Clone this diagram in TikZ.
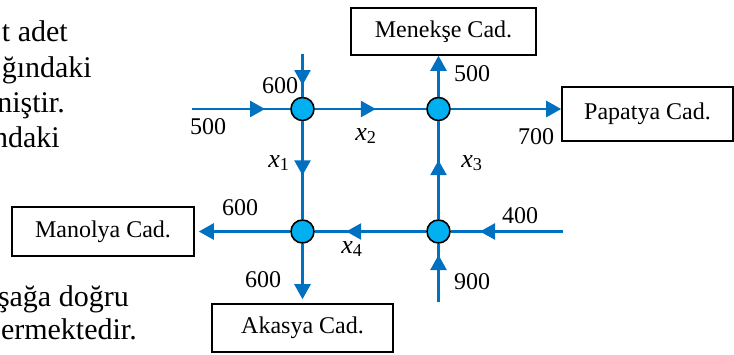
\documentclass[tikz,border=0pt]{standalone}
\usepackage{fontspec}
\setmainfont{Liberation Serif}
\usetikzlibrary{arrows.meta,decorations.markings}
\definecolor{roadblue}{HTML}{0070C0}
\definecolor{nodeblue}{HTML}{00B0F0}
\tikzset{
  road/.style={draw=roadblue, line width=2.6pt},
  tipend/.style={-{Triangle[length=15pt,width=16pt]}},
  arrowat/.style={postaction={decorate},
    decoration={markings, mark=at position #1 with {\arrow{Triangle[length=15pt,width=16pt]}}}},
  junction/.style={circle, fill=nodeblue, draw=black, line width=1.6pt, minimum size=23pt, inner sep=0pt},
  street/.style={draw=black, line width=1.6pt, inner sep=0pt, font=\fontsize{24}{28}\selectfont},
  lbl/.style={inner sep=0pt, font=\fontsize{24}{28}\selectfont},
  mathlbl/.style={inner sep=0pt, font=\fontsize{26}{28}\selectfont},
  prose/.style={inner sep=0pt, anchor=base east, font=\fontsize{30}{34}\selectfont}
}
\begin{document}
\begin{tikzpicture}[x=1pt, y=-1pt]
\useasboundingbox (0,0) rectangle (734,354);
\clip (0,0) rectangle (734,354);
\fill[white] (0,0) rectangle (734,354);

% prose fragments
\node[prose] (p1) at (68,41) {t adet};
\node[prose] (p2) at (92,77) {ğındaki};
\node[prose] (p3) at (65,112) {niştir.};
\node[prose] (p4) at (60,147) {ndaki};
\node[prose] (p5) at (129,306) {şağa doğru};
\node[prose] (p6) at (137,339) {ermektedir.};

% junctions
\node[junction] (A) at (302.5,109) {};
\node[junction] (B) at (438.5,109) {};
\node[junction] (C) at (302.5,231.5) {};
\node[junction] (D) at (438.5,231.5) {};

% street boxes
\node[street, minimum width=185pt, minimum height=47pt] (men) at (443.5,31.5) {Menekşe Cad.};
\node[street, minimum width=171pt, minimum height=54pt] (pap) at (647.5,114) {Papatya Cad.};
\node[street, minimum width=182pt, minimum height=49pt] (man) at (103,231.5) {Manolya Cad.};
\node[street, minimum width=181pt, minimum height=48pt] (ak) at (302.5,328) {Akasya Cad.};

% free ends
\coordinate (tA) at (302.5,54);
\coordinate (lA) at (192,109);
\coordinate (rD) at (563,231.5);
\coordinate (bD) at (438.5,302);

% roads
\draw[road, arrowat=31pt] (tA) -- (A);
\draw[road, arrowat=73pt] (lA) -- (A);
\draw[road, arrowat=61pt] (A) -- (B);
\draw[road, tipend] (B) -- (B -| pap.west);
\draw[road, tipend] (B) -- (B |- men.south);
\draw[road, arrowat=54pt] (A) -- (C);
\draw[road, arrowat=59pt] (D) -- (B);
\draw[road, arrowat=80pt] (D) -- (C);
\draw[road, arrowat=83pt] (rD) -- (D);
\draw[road, arrowat=47pt] (bD) -- (D);
\draw[road, tipend, shorten >=4pt] (C) -- (C -| man.east);
\draw[road, tipend, shorten >=4pt] (C) -- (C |- ak.north);

% labels
\node[lbl] (l1) at (280,86) {600};
\node[lbl] (l2) at (208,127) {500};
\node[mathlbl] (l3) at (366,136) {\itshape x\textsubscript{\upshape 2}};
\node[mathlbl] (l4) at (279,163) {\itshape x\textsubscript{\upshape 1}};
\node[lbl] (l5) at (472,74) {500};
\node[lbl] (l6) at (536,137) {700};
\node[mathlbl] (l7) at (472,163) {\itshape x\textsubscript{\upshape 3}};
\node[lbl] (l8) at (240,208) {600};
\node[mathlbl] (l9) at (352,249) {\itshape x\textsubscript{\upshape 4}};
\node[lbl] (l10) at (263,280) {600};
\node[lbl] (l11) at (520,216) {400};
\node[lbl] (l12) at (472,282) {900};
\end{tikzpicture}
\end{document}
